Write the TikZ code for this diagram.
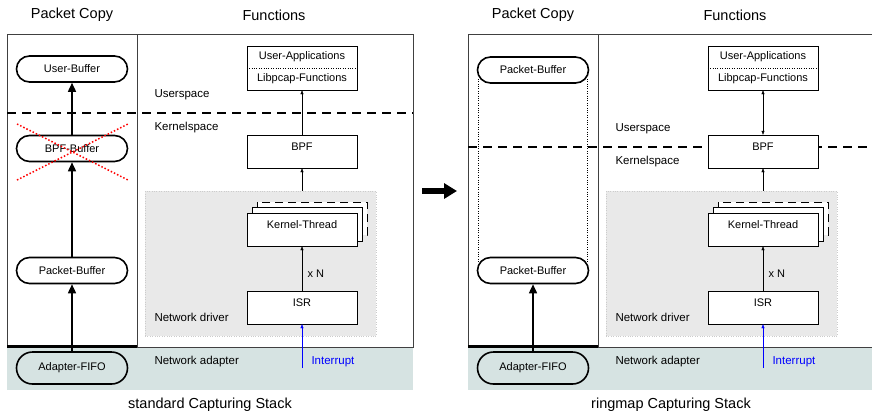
\documentclass[tikz,border=0pt]{standalone}
\usepackage{fontspec}
\setmainfont{Liberation Sans}
\usetikzlibrary{arrows.meta}
\definecolor{bandcol}{HTML}{D6E3E2}

\begin{document}
\begin{tikzpicture}[x=1pt,y=-1pt,
    every node/.style={font=\fontsize{11}{13}\selectfont},
    pill/.style={draw,line width=1.6pt,rounded corners=13pt,minimum width=111pt,minimum height=26pt},
    fnbox/.style={draw,fill=white,minimum width=110pt,inner ysep=3pt,text height=12pt,text depth=15pt},
    lbl/.style={anchor=west,font=\fontsize{11.5}{13}\selectfont},
    head/.style={font=\fontsize{14.5}{17}\selectfont},
    frame/.style={draw=black!75,line width=0.9pt},
    copyarr/.style={line width=1.6pt,-{Triangle[length=9pt,width=8pt]}},
    fnarr/.style={-{Triangle[length=4pt,width=3pt]}},
  ]
  \useasboundingbox (0,0) rectangle (872,413);

  % both stacks share the frame and the functions column
  \foreach \p/\ox/\dy/\capname in {L/0/113/standard,R/461/147/ringmap}{
    \begin{scope}[xshift=\ox]
      \fill[bandcol] (7,347) rectangle (413,390);
      \draw[frame] (7,347) -- (7,34) -- (413,34) -- (413,347) -- cycle;
      \draw[frame] (137,34) -- (137,347);
      \draw[line width=3pt] (7,346) -- (137,346);
      \node[head] (\p-hcopy) at (72,15) {Packet Copy};
      \node[head] (\p-hfn) at (274,15) {Functions};
      \node[head] (\p-cap) at (210,405) {\capname{} Capturing Stack};

      \node[draw=gray!40,dotted,fill=gray!17,minimum width=231pt,minimum height=145pt] (\p-drv) at (260.5,263.5) {};
      \draw[line width=1.1pt,dash pattern=on 9pt off 6pt] (7,\dy) -- (413,\dy);
      \node[lbl] (\p-us) at (151,\dy-18) {Userspace};
      \node[lbl] (\p-ks) at (151,\dy+15) {Kernelspace};
      \node[lbl] (\p-nd) at (151,317) {Network driver};
      \node[lbl] (\p-na) at (151,362) {Network adapter};

      \node[draw,fill=white,minimum width=110pt,minimum height=44pt,align=center] (\p-app) at (302,68)
        {User-Applications\\[9pt]Libpcap-Functions};
      \draw[dotted] (\p-app.west) -- (\p-app.east);
      \node[fnbox] (\p-bpf) at (302,151.5) {BPF};
      \draw[dashed,dash pattern=on 8pt off 5pt,fill=white] (257,202) rectangle (367,235);
      \draw[fill=white] (252,207) rectangle (362,241);
      \node[fnbox] (\p-kt) at (302,229.5) {Kernel-Thread};
      \node[fnbox] (\p-isr) at (302,307.5) {ISR};
      \coordinate (\p-irq) at (302,368);

      \draw[fnarr] (\p-drv.north -| \p-bpf) -- (\p-bpf);
      \draw[fnarr] (\p-isr) -- node[right,pos=0.38,xshift=2pt] (\p-xn) {x N} (\p-kt);
      \draw[fnarr,blue] (\p-irq) -- (\p-isr);
      \node[lbl,text=blue] (\p-int) at (308,362) {Interrupt};
    \end{scope}
  }

  % standard stack: copied buffer by buffer
  \node[pill] (L-ubuf) at (72,69) {User-Buffer};
  \node[pill] (L-bbuf) at (72,148.5) {BPF-Buffer};
  \node[pill] (L-pkt) at (72,270.5) {Packet-Buffer};
  \node[pill,minimum height=32pt,rounded corners=16pt] (L-fifo) at (72,368) {Adapter-FIFO};
  \draw[copyarr] (L-fifo) -- (L-pkt);
  \draw[copyarr] (L-pkt) -- (L-bbuf);
  \draw[copyarr] (L-bbuf) -- (L-ubuf);
  \draw[red,dotted,line width=1.5pt] ([shift={(-55,-24.5)}]L-bbuf.center) -- ([shift={(56,31.5)}]L-bbuf.center);
  \draw[red,dotted,line width=1.5pt] ([shift={(-55,31.5)}]L-bbuf.center) -- ([shift={(56,-24.5)}]L-bbuf.center);
  \draw[fnarr] (L-bpf) -- (L-app);

  % ringmap stack: one buffer, mapped
  \node[pill] (R-ubuf) at (533,70) {Packet-Buffer};
  \node[pill] (R-pkt) at (533,270.5) {Packet-Buffer};
  \node[pill,minimum height=32pt,rounded corners=16pt] (R-fifo) at (533,368) {Adapter-FIFO};
  \draw[copyarr] (R-fifo) -- (R-pkt);
  \draw[dotted] ([shift={(1,-5)}]R-ubuf.south west) -- ([shift={(1,5)}]R-pkt.north west);
  \draw[dotted] ([shift={(-2,-5)}]R-ubuf.south east) -- ([shift={(-2,5)}]R-pkt.north east);
  \draw[{Triangle[length=4pt,width=3pt]}-{Triangle[length=4pt,width=3pt]}] (R-bpf) -- (R-app);

  \coordinate (tail) at (422,191);
  \coordinate (tip) at (457,191);
  \draw[line width=6pt,-{Triangle[length=13pt,width=15pt]}] (tail) -- (tip);
\end{tikzpicture}
\end{document}
